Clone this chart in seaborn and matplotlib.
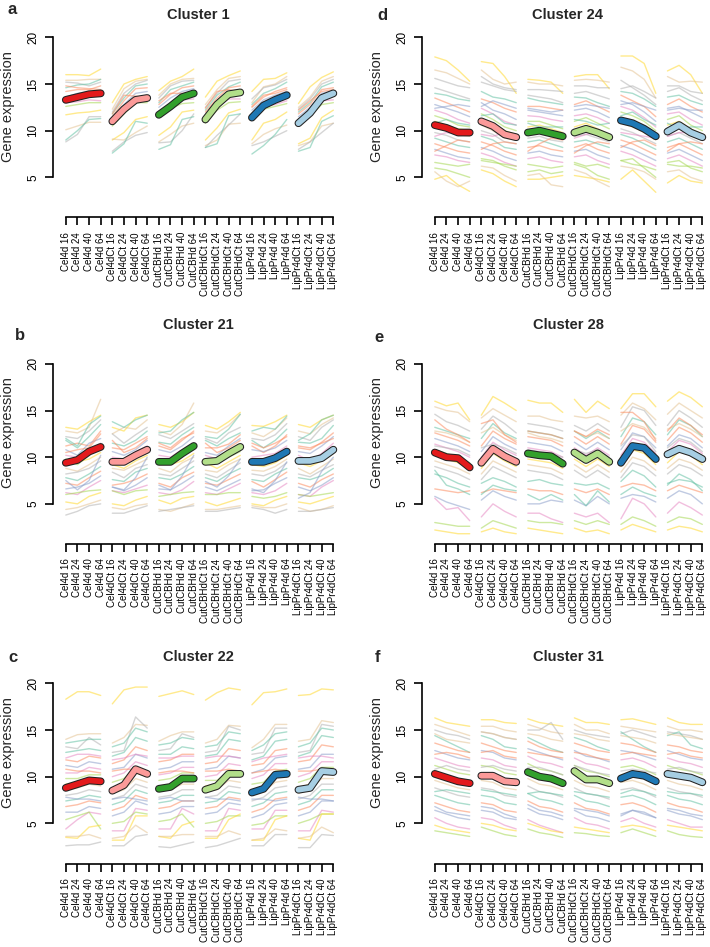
import numpy as np
import pandas as pd
import seaborn as sns
import matplotlib.pyplot as plt

samples = ["Cel4d", "Cel4dCt", "CutCBHd", "CutCBHdCt", "LipPr4d", "LipPr4dCt"]
hours = [16, 24, 40, 64]
tick_labels = [f"{s} {h}" for s in samples for h in hours]
mean_colors = ["#E31A1C", "#FB9A99", "#33A02C", "#B2DF8A", "#1F78B4", "#A6CEE3"]

titles = ["Cluster 1", "Cluster 21", "Cluster 22", "Cluster 24", "Cluster 28", "Cluster 31"]
letters = ["a", "b", "c", "d", "e", "f"]

# cluster mean profiles, 6 conditions x 4 time points
means_c1 = [13.3, 13.6, 13.9, 14.0, 11.0, 12.3, 13.3, 13.5, 11.7, 12.6, 13.6, 14.0,
            11.2, 12.8, 13.9, 14.1, 11.4, 12.7, 13.3, 13.8, 10.8, 11.9, 13.5, 14.0]
means_c21 = [9.4, 9.7, 10.6, 11.1, 9.5, 9.5, 10.2, 10.8, 9.5, 9.5, 10.4, 11.2,
             9.5, 9.6, 10.4, 11.1, 9.5, 9.5, 9.9, 10.6, 9.6, 9.6, 9.9, 10.8]
means_c22 = [8.8, 9.2, 9.6, 9.5, 8.5, 9.1, 10.8, 10.3, 8.7, 8.9, 9.8, 9.8,
             8.6, 9.0, 10.3, 10.3, 8.3, 8.7, 10.2, 10.3, 8.6, 8.8, 10.6, 10.5]
means_c24 = [10.6, 10.3, 9.8, 9.8, 11.0, 10.5, 9.6, 9.3, 9.8, 10.0, 9.7, 9.4,
             9.8, 10.2, 9.8, 9.3, 11.1, 10.8, 10.2, 9.4, 9.9, 10.6, 9.8, 9.3]
means_c28 = [10.5, 10.0, 9.9, 8.9, 9.4, 10.9, 10.1, 9.5, 10.4, 10.2, 10.1, 9.3,
             10.5, 9.7, 10.4, 9.5, 9.4, 11.2, 11.0, 9.8, 10.3, 10.9, 10.5, 9.8]
means_c31 = [10.3, 9.9, 9.5, 9.3, 10.1, 10.1, 9.5, 9.4, 10.5, 10.0, 9.8, 9.3,
             10.6, 9.7, 9.7, 9.3, 9.8, 10.3, 10.1, 9.5, 10.3, 10.1, 9.9, 9.4]

# member gene profiles (one row per gene, groups separated by |)
genes_c1 = """
16.0 16.0 15.9 16.6 | 13.0 15.0 15.5 15.8 | 14.3 15.3 15.8 16.6 | 13.6 15.3 15.9 16.4 | 14.2 15.5 15.6 16.2 | 12.9 14.7 15.7 16.3
15.4 15.4 15.5 15.5 | 12.3 14.5 15.3 15.5 | 13.8 15.0 15.5 15.6 | 12.8 14.4 15.6 15.8 | 13.0 14.7 15.0 15.8 | 12.5 13.6 15.3 15.8
15.2 15.1 14.8 15.2 | 12.0 14.0 15.0 15.4 | 13.5 14.8 15.3 15.4 | 12.5 14.0 15.3 15.5 | 13.4 14.6 14.9 15.5 | 12.3 13.4 15.0 15.5
14.6 14.9 15.0 15.5 | 11.8 13.5 14.8 15.0 | 13.0 14.4 14.8 15.2 | 12.2 13.8 14.7 15.2 | 12.8 14.0 14.5 15.2 | 12.0 13.0 14.7 15.2
14.2 14.4 14.4 14.8 | 11.5 13.2 14.5 14.6 | 12.8 13.9 14.6 14.8 | 12.0 13.5 14.6 14.8 | 12.5 13.6 14.2 14.6 | 11.8 12.8 14.4 14.6
13.6 14.0 14.2 14.2 | 11.2 12.8 14.0 14.2 | 12.5 13.5 14.2 14.5 | 11.6 13.2 14.2 14.4 | 12.2 13.3 13.8 14.2 | 11.5 12.5 14.0 14.3
13.0 13.1 13.3 13.2 | 10.8 12.2 13.3 13.4 | 12.0 12.8 13.3 13.4 | 11.2 12.6 13.4 13.4 | 11.8 12.6 12.8 13.2 | 11.0 12.0 13.2 13.3
12.6 12.8 13.0 13.0 | 10.5 11.8 13.0 13.0 | 11.5 12.4 12.9 13.0 | 10.8 12.2 13.0 13.1 | 11.4 12.3 12.6 12.9 | 10.6 11.6 12.8 13.0
11.7 11.9 12.0 12.2 | 9.0 9.8 11.2 11.5 | 9.5 10.4 12.0 12.2 | 9.0 10.3 11.9 12.3 | 9.0 10.8 11.2 12.0 | 8.6 9.2 11.4 12.2
10.1 10.5 10.9 10.9 | 9.1 9.0 9.8 10.5 | 8.8 9.6 10.5 10.8 | 8.4 9.0 10.7 10.8 | 8.6 9.6 10.2 10.6 | 8.4 8.8 10.5 10.8
8.8 9.6 11.5 11.5 | 7.8 8.8 9.5 9.8 | 8.7 8.8 10.0 11.8 | 8.2 9.5 10.6 11.8 | 8.4 8.8 9.4 10.0 | 8.0 8.8 9.8 10.8
9.0 10.0 11.2 11.3 | 7.6 8.6 11.0 10.8 | 8.0 8.5 11.2 11.5 | 8.2 8.6 11.6 11.8 | 7.5 8.4 9.6 11.2 | 7.8 8.2 11.0 11.6
14.8 14.6 14.5 14.4 | 11.8 13.8 13.7 13.5 | 13.2 14.0 14.0 14.0 | 12.4 14.2 14.4 14.2 | 12.6 13.8 14.0 14.4 | 12.2 13.2 14.2 14.4
"""

genes_c21 = """
13.2 13.0 13.8 14.5 | 13.2 12.8 14.2 14.5 | 13.5 13.2 13.8 14.8 | 13.4 13.0 13.8 14.8 | 13.4 13.3 13.8 14.5 | 13.5 13.2 14.0 14.5
12.8 12.6 13.2 16.2 | 12.5 13.2 13.0 14.0 | 12.8 12.4 13.5 15.8 | 12.8 12.6 13.4 14.6 | 12.6 12.2 13.0 14.2 | 12.8 12.5 13.5 14.2
12.2 12.0 12.8 14.0 | 12.5 11.5 12.4 13.2 | 12.4 12.0 12.8 13.6 | 12.0 11.5 12.6 13.2 | 12.0 11.8 12.4 13.6 | 12.2 11.8 13.2 14.0
11.8 11.0 12.2 13.5 | 11.5 11.2 11.8 12.8 | 11.6 11.4 12.4 13.2 | 11.8 11.2 12.0 12.6 | 11.8 11.0 11.8 13.0 | 11.6 11.5 12.0 13.4
11.2 11.5 11.2 12.8 | 11.0 10.8 11.5 12.2 | 11.2 10.8 11.8 12.8 | 11.0 11.0 11.4 12.4 | 11.2 10.5 11.2 12.4 | 11.0 10.8 11.6 12.6
10.8 10.2 11.5 12.0 | 10.6 10.2 10.8 11.8 | 10.8 10.5 11.2 12.2 | 10.5 10.2 11.2 12.0 | 10.8 10.6 11.0 11.8 | 10.6 10.4 11.2 12.2
10.2 10.0 10.5 11.5 | 10.0 9.8 10.6 11.2 | 10.2 10.0 10.8 11.5 | 10.2 9.8 10.5 11.4 | 10.0 10.2 10.4 11.2 | 10.2 9.6 10.4 11.5
9.8 9.2 10.2 11.0 | 9.6 9.5 10.2 10.6 | 9.8 9.4 10.2 10.8 | 9.6 9.4 10.0 10.6 | 9.8 9.4 10.0 10.8 | 9.8 9.4 9.8 10.8
9.2 9.5 9.8 10.5 | 9.2 8.8 9.6 10.2 | 9.2 9.2 9.6 10.4 | 9.4 8.8 9.5 10.2 | 9.2 9.0 9.4 10.2 | 9.4 9.0 9.6 10.4
8.8 8.5 9.2 10.0 | 8.8 8.6 9.2 9.8 | 8.8 8.4 9.4 10.0 | 8.6 8.4 9.2 9.8 | 8.6 8.5 9.0 9.8 | 8.8 8.2 9.0 9.8
8.2 8.4 8.8 9.6 | 8.4 7.8 8.8 9.2 | 8.2 8.0 8.8 9.6 | 8.2 7.8 8.6 9.4 | 8.2 8.0 8.5 9.4 | 8.2 7.9 8.6 9.2
7.8 7.5 8.2 9.0 | 7.6 7.4 8.4 8.8 | 7.8 7.6 8.2 9.0 | 7.8 7.4 8.2 8.8 | 7.6 7.4 8.2 8.8 | 7.8 7.6 8.0 8.8
7.2 7.0 7.8 8.5 | 7.0 7.2 7.6 8.2 | 7.2 6.8 7.8 8.4 | 7.2 7.0 7.6 8.2 | 7.4 6.8 7.6 8.4 | 7.2 6.8 7.6 8.2
6.6 6.8 7.2 8.0 | 6.8 6.4 7.0 7.8 | 6.6 6.5 7.2 8.0 | 6.8 6.4 7.0 7.6 | 6.4 6.5 7.2 7.8 | 6.8 6.4 7.0 7.8
6.2 6.0 6.8 7.5 | 6.4 6.2 6.6 7.0 | 6.2 6.0 6.5 7.4 | 6.2 6.0 6.6 7.2 | 6.2 6.0 6.4 7.2 | 6.0 5.8 6.8 7.5
6.0 6.2 6.4 6.5 | 6.4 6.0 6.4 6.5 | 5.8 6.0 6.2 6.3 | 6.0 6.0 6.2 6.2 | 5.8 5.6 5.8 6.2 | 6.0 5.8 6.0 6.2
5.2 5.0 5.8 6.2 | 5.0 4.8 5.4 5.8 | 5.4 5.0 5.6 5.8 | 5.2 4.8 5.2 5.6 | 5.0 4.8 5.4 5.8 | 5.2 5.0 5.4 5.8
4.4 4.6 5.0 5.4 | 4.6 4.4 4.8 5.0 | 4.4 4.2 4.6 5.0 | 4.4 4.4 4.6 4.8 | 4.8 4.6 4.6 5.0 | 4.6 4.2 4.4 4.8
3.8 4.2 4.8 5.0 | 4.0 4.0 4.4 4.8 | 4.2 4.4 4.6 4.8 | 4.2 4.2 4.4 4.6 | 4.6 4.4 4.0 4.4 | 4.2 4.2 4.4 4.6
12.0 11.2 13.5 14.4 | 13.8 13.2 14.0 14.5 | 12.6 12.8 14.0 14.8 | 12.2 12.0 13.0 14.6 | 12.8 13.2 13.0 14.4 | 11.8 12.5 14.0 14.5
10.5 10.8 11.0 12.5 | 11.8 10.5 11.0 12.0 | 11.5 11.0 12.0 12.6 | 11.5 10.5 11.0 11.8 | 11.5 11.0 11.5 12.2 | 11.2 11.0 11.5 12.0
7.5 6.5 7.5 10.2 | 6.8 6.5 7.8 10.0 | 7.0 6.5 8.0 10.2 | 7.4 6.8 8.0 9.8 | 6.6 6.2 7.5 9.5 | 5.6 6.2 8.5 10.0
"""

genes_c22 = """
18.3 19.1 19.1 18.7 | 17.8 19.3 19.6 19.6 | 18.6 18.9 19.2 18.8 | 18.2 19.0 19.5 19.3 | 17.7 19.0 19.1 19.4 | 18.7 18.8 19.4 19.3
14.0 14.5 14.6 14.6 | 13.6 14.2 15.6 15.5 | 13.8 14.4 14.8 14.8 | 13.6 14.0 15.5 15.4 | 13.1 14.0 15.6 15.6 | 13.8 14.0 16.0 15.8
13.2 13.0 14.2 13.4 | 12.6 12.8 16.4 15.2 | 12.8 13.0 14.6 14.2 | 12.6 12.8 15.4 15.0 | 12.4 12.6 15.2 15.2 | 12.6 12.8 15.6 15.4
12.6 12.8 13.0 12.8 | 12.2 12.6 14.2 13.8 | 12.4 12.4 13.2 13.0 | 12.2 12.4 14.0 13.8 | 11.8 12.2 13.8 14.0 | 12.2 12.6 14.4 14.2
11.8 11.6 12.2 12.0 | 11.4 11.8 13.2 12.8 | 11.6 11.8 12.4 12.4 | 11.4 11.6 13.0 12.8 | 11.2 11.4 12.8 13.0 | 11.6 11.8 13.4 13.2
11.2 11.0 11.6 11.4 | 10.8 11.0 12.4 12.0 | 10.8 11.0 11.6 11.6 | 10.8 11.0 12.2 12.0 | 10.4 10.8 12.0 12.2 | 10.8 11.0 12.4 12.4
10.4 10.4 11.0 10.8 | 10.0 10.4 11.6 11.2 | 10.2 10.4 11.0 11.0 | 10.0 10.2 11.4 11.2 | 9.8 10.2 11.4 11.4 | 10.0 10.4 11.6 11.6
9.8 9.8 10.2 10.2 | 9.4 9.8 11.0 10.6 | 9.6 9.8 10.4 10.4 | 9.6 9.6 10.6 10.6 | 9.2 9.4 10.6 10.8 | 9.4 9.8 11.0 11.0
9.2 9.4 9.8 9.6 | 8.8 9.2 10.4 10.0 | 9.0 9.2 9.8 9.8 | 9.0 9.2 10.2 10.0 | 8.6 8.8 10.0 10.2 | 8.8 9.2 10.4 10.4
8.6 8.8 9.2 9.0 | 8.2 8.6 9.8 9.4 | 8.4 8.6 9.2 9.2 | 8.4 8.6 9.6 9.4 | 8.0 8.4 9.4 9.6 | 8.2 8.6 9.8 9.8
8.0 8.2 8.6 8.4 | 7.6 8.0 9.2 8.8 | 7.8 8.0 8.6 8.6 | 7.8 8.0 9.0 8.8 | 7.4 7.8 8.8 9.0 | 7.6 8.0 9.2 9.2
7.4 7.6 8.0 7.8 | 7.0 7.4 8.6 8.2 | 7.2 7.4 8.0 8.0 | 7.2 7.4 8.4 8.2 | 6.8 7.2 8.2 8.4 | 7.0 7.4 8.6 8.6
6.8 7.0 7.4 7.2 | 6.4 6.8 8.0 7.6 | 6.6 6.8 7.4 7.4 | 6.6 6.8 7.8 7.6 | 6.2 6.6 7.6 7.8 | 6.4 6.8 8.0 8.0
6.2 6.2 6.8 6.6 | 5.8 6.2 7.4 7.0 | 6.0 6.2 6.8 6.8 | 6.0 6.2 7.2 7.0 | 5.6 6.0 7.0 7.2 | 5.8 6.2 7.4 7.4
4.4 5.4 6.2 6.0 | 4.2 4.2 6.6 6.4 | 4.4 4.4 6.6 6.0 | 4.2 4.2 6.6 6.4 | 4.4 4.4 6.4 6.4 | 4.2 4.2 6.4 6.2
5.4 5.8 6.2 4.4 | 5.0 5.2 6.2 6.0 | 5.2 5.4 6.0 4.6 | 5.0 5.2 5.8 5.8 | 4.8 5.0 5.8 5.8 | 5.0 5.4 6.0 6.0
3.5 3.4 4.6 4.8 | 3.2 3.2 5.8 5.8 | 3.6 3.4 4.8 5.2 | 3.4 3.4 5.4 6.0 | 3.2 3.2 5.4 5.8 | 3.4 3.2 6.0 6.0
3.6 3.6 3.8 3.4 | 3.4 3.6 4.8 4.0 | 3.6 3.6 3.8 3.8 | 3.6 3.6 4.2 3.8 | 3.2 3.4 4.4 4.2 | 3.4 3.6 4.6 4.0
2.6 2.7 2.7 3.0 | 2.6 2.6 3.6 3.8 | 2.5 2.4 2.7 3.0 | 2.4 2.6 3.0 3.4 | 2.6 2.6 3.8 3.8 | 2.4 2.4 3.8 3.7
13.6 13.8 14.0 14.0 | 13.2 13.6 15.2 14.8 | 13.4 13.6 14.2 14.0 | 13.2 13.4 14.8 14.6 | 12.8 13.4 14.6 14.8 | 13.2 13.6 15.2 15.0
10.8 10.6 10.6 10.4 | 10.6 10.8 10.8 10.6 | 10.4 10.6 10.6 10.4 | 10.6 10.6 10.8 10.6 | 10.4 10.6 10.8 10.6 | 10.6 10.6 10.8 10.6
7.8 7.6 7.6 7.4 | 7.6 7.8 7.6 7.4 | 7.6 7.8 7.4 7.4 | 7.8 7.6 7.6 7.4 | 7.6 7.6 7.4 7.6 | 7.8 7.6 7.6 7.4
12.0 12.4 12.4 12.2 | 11.8 12.0 12.4 12.2 | 12.0 12.0 12.2 12.2 | 12.0 12.2 12.2 12.0 | 11.6 12.0 12.2 12.4 | 12.0 12.2 12.2 12.0
"""

genes_c24 = """
17.9 17.5 16.5 15.3 | 17.4 17.2 15.8 14.0 | 15.5 15.4 15.2 14.0 | 15.8 16.0 16.0 14.5 | 18.0 18.0 17.2 14.0 | 16.4 17.0 16.0 14.0
16.5 16.2 15.6 15.0 | 16.5 15.5 15.0 15.2 | 15.2 15.0 15.0 14.8 | 15.4 15.5 15.4 15.2 | 16.8 16.4 15.5 13.5 | 15.8 15.2 15.3 15.2
15.6 15.2 14.8 14.6 | 15.8 15.0 14.6 14.4 | 14.4 14.4 14.3 14.2 | 14.8 14.8 14.6 14.6 | 14.5 14.8 14.2 13.5 | 14.8 14.8 14.2 14.0
14.0 13.8 13.4 13.2 | 14.2 13.6 13.4 13.0 | 13.5 13.2 13.0 12.8 | 13.6 13.5 13.0 12.6 | 14.2 14.0 13.4 12.6 | 13.6 13.8 13.2 12.8
13.5 13.0 12.5 12.0 | 13.4 13.0 12.4 12.0 | 12.6 12.6 12.4 12.2 | 12.8 13.2 12.6 12.0 | 13.8 13.2 12.6 11.5 | 12.8 13.4 12.6 12.0
12.8 12.4 12.0 11.5 | 13.0 12.2 11.8 11.2 | 12.2 12.0 11.8 11.6 | 12.2 12.4 12.0 11.4 | 13.2 12.8 12.0 11.0 | 12.4 12.6 12.0 11.4
12.2 11.8 11.2 10.8 | 12.4 11.8 11.0 10.6 | 11.6 11.5 11.2 11.0 | 11.6 11.8 11.4 10.8 | 12.6 12.2 11.4 10.4 | 11.8 12.0 11.2 10.6
11.6 11.2 10.6 10.4 | 11.8 11.2 10.4 10.0 | 11.0 11.0 10.6 10.2 | 11.0 11.4 10.8 10.2 | 12.0 11.6 11.0 10.0 | 11.2 11.6 10.6 10.0
11.0 10.6 10.2 10.0 | 11.2 10.6 10.0 9.6 | 10.4 10.6 10.2 9.8 | 10.4 10.8 10.2 9.6 | 11.4 11.0 10.4 9.6 | 10.6 11.0 10.2 9.6
10.4 10.0 9.6 9.4 | 10.6 10.0 9.2 9.0 | 9.8 10.0 9.6 9.2 | 9.8 10.2 9.8 9.2 | 10.8 10.4 9.8 9.0 | 10.0 10.4 9.6 9.0
9.8 9.5 9.0 8.8 | 10.0 9.6 8.8 8.6 | 9.2 9.4 9.0 8.8 | 9.4 9.6 9.2 8.8 | 10.2 9.8 9.2 8.6 | 9.4 9.8 9.2 8.6
9.2 8.8 8.4 8.2 | 9.4 9.0 8.2 8.0 | 8.8 9.0 8.6 8.2 | 8.8 9.0 8.6 8.2 | 9.6 9.2 8.6 8.0 | 8.8 9.2 8.6 8.0
8.6 8.2 7.8 7.6 | 8.8 8.4 7.8 7.4 | 8.2 8.4 8.0 7.8 | 8.2 8.6 8.0 7.6 | 9.0 8.6 8.0 7.4 | 8.2 8.6 8.0 7.4
8.0 7.6 7.2 7.0 | 8.2 7.8 7.2 6.8 | 7.6 7.8 7.4 7.2 | 7.8 8.0 7.4 7.0 | 8.4 8.0 7.4 6.8 | 7.6 8.0 7.4 6.8
7.4 7.2 6.8 6.6 | 7.6 7.2 6.6 6.2 | 7.0 7.2 6.8 6.6 | 7.2 7.4 6.8 6.4 | 7.8 7.4 6.8 6.2 | 7.0 7.4 6.8 6.2
6.0 5.8 5.4 5.0 | 7.0 6.8 6.2 5.8 | 5.6 5.8 5.4 5.6 | 6.4 6.0 5.2 4.8 | 6.8 7.0 6.0 5.0 | 6.6 6.8 6.0 5.6
4.8 5.2 4.2 3.5 | 5.8 5.4 4.6 4.0 | 4.8 4.8 5.0 5.2 | 5.2 5.0 4.8 4.5 | 4.8 5.8 4.6 3.4 | 4.4 5.2 4.6 4.4
5.6 4.6 4.0 4.6 | 6.2 6.0 5.2 4.6 | 5.2 5.4 4.2 4.0 | 5.8 5.4 4.6 4.0 | 6.2 6.0 5.6 4.8 | 5.6 5.8 5.0 4.6
14.6 14.2 13.8 13.4 | 15.2 14.8 14.4 14.2 | 13.8 13.6 13.4 13.0 | 14.0 14.2 13.8 13.4 | 15.4 14.6 13.8 12.8 | 14.2 14.6 13.8 13.2
10.8 11.2 10.8 10.6 | 11.6 11.8 10.8 10.6 | 10.8 10.4 10.4 10.4 | 11.2 11.0 10.6 10.8 | 11.6 12.0 11.2 10.6 | 10.8 10.2 10.4 10.4
7.8 8.4 9.0 8.8 | 8.0 8.6 8.8 8.6 | 7.8 8.6 9.2 9.0 | 7.6 8.4 8.8 8.6 | 8.2 8.8 9.0 8.4 | 7.8 8.6 8.8 8.6
12.4 12.6 12.8 12.6 | 12.6 13.2 12.8 12.4 | 12.4 12.2 12.0 12.2 | 12.6 12.8 12.6 12.4 | 12.8 13.0 12.6 12.2 | 12.2 12.4 12.2 12.2
9.4 9.8 9.6 9.8 | 9.6 9.4 9.8 9.6 | 9.6 10.0 9.8 9.6 | 9.2 9.6 9.8 9.4 | 9.8 9.6 9.4 9.2 | 9.4 9.8 9.8 9.6
6.6 6.4 6.2 6.4 | 6.8 6.6 6.4 6.2 | 6.4 6.2 6.0 6.2 | 6.6 6.2 6.4 6.0 | 6.8 6.4 6.2 5.8 | 6.4 6.2 6.2 6.0
"""

genes_c28 = """
16.0 15.5 15.8 14.0 | 14.5 16.5 15.8 15.0 | 16.1 15.8 15.8 14.8 | 16.2 14.8 16.0 15.2 | 15.2 16.8 16.8 15.4 | 16.0 17.0 16.4 15.4
15.4 15.0 14.8 13.8 | 14.2 15.2 14.5 13.8 | 14.4 14.4 14.0 13.8 | 14.4 14.2 14.4 13.8 | 14.5 15.8 15.2 14.0 | 14.6 15.8 15.0 14.2
14.6 13.8 13.4 12.8 | 13.0 14.4 13.6 12.6 | 13.6 13.4 13.2 12.8 | 13.4 12.8 13.6 12.8 | 13.2 15.4 15.0 13.4 | 13.4 15.0 14.2 13.2
13.2 12.8 12.4 12.0 | 12.0 13.6 12.6 12.0 | 12.8 12.6 12.4 12.0 | 12.8 12.0 12.8 12.0 | 12.2 14.2 13.8 12.4 | 12.4 14.0 13.4 12.2
12.6 12.2 11.8 11.2 | 11.2 12.8 12.0 11.4 | 12.2 12.0 11.8 11.2 | 12.2 11.4 12.2 11.4 | 11.4 13.4 13.0 11.6 | 11.8 13.2 12.6 11.6
12.0 11.6 11.2 10.6 | 10.6 12.2 11.4 10.8 | 11.6 11.4 11.2 10.6 | 11.6 10.8 11.6 10.8 | 10.8 12.6 12.2 11.0 | 11.2 12.4 12.0 11.0
11.4 11.0 10.6 10.0 | 10.0 11.6 10.8 10.2 | 11.0 10.8 10.6 10.0 | 11.0 10.2 11.0 10.2 | 10.2 12.0 11.6 10.4 | 10.6 11.8 11.4 10.4
10.8 10.4 10.0 9.4 | 9.4 11.0 10.2 9.6 | 10.4 10.2 10.0 9.4 | 10.4 9.6 10.4 9.6 | 9.6 11.4 11.0 9.8 | 10.0 11.2 10.8 9.8
10.2 9.8 9.4 8.8 | 8.8 10.4 9.6 9.0 | 9.8 9.6 9.4 8.8 | 9.8 9.0 9.8 9.0 | 9.0 10.8 10.4 9.2 | 9.4 10.6 10.2 9.2
9.6 9.2 8.8 8.2 | 8.2 9.6 9.0 8.4 | 9.2 9.0 8.8 8.2 | 9.2 8.4 9.2 8.4 | 8.4 10.0 9.6 8.6 | 8.8 9.8 9.4 8.6
9.0 8.6 8.2 7.6 | 7.6 9.0 8.4 7.8 | 8.6 8.4 8.2 7.6 | 8.6 7.8 8.6 7.8 | 7.8 9.4 9.0 8.0 | 8.2 9.2 8.8 8.0
8.2 7.8 7.2 6.8 | 7.2 7.8 7.4 6.8 | 7.4 7.6 7.2 7.0 | 7.2 7.0 7.2 6.6 | 7.4 8.6 8.0 6.8 | 7.2 7.6 7.4 6.8
6.6 6.4 6.2 6.4 | 6.2 6.6 6.4 6.2 | 6.6 6.4 6.4 6.0 | 6.6 6.2 6.6 6.0 | 6.8 7.2 7.0 6.4 | 6.4 7.0 6.6 6.2
5.8 5.2 4.8 4.4 | 5.4 6.4 5.8 5.4 | 5.0 5.0 5.4 5.2 | 5.4 4.8 5.8 5.0 | 5.6 6.0 5.8 5.2 | 5.6 6.4 6.0 5.0
5.6 4.4 4.6 3.2 | 3.6 5.0 4.2 3.6 | 4.0 4.0 3.4 3.0 | 4.0 3.6 4.0 3.0 | 3.4 5.6 5.0 3.6 | 4.0 5.2 4.6 3.8
3.0 2.8 2.6 2.6 | 2.4 3.2 2.8 2.4 | 3.2 3.0 3.0 2.8 | 3.2 2.8 3.2 2.8 | 2.8 3.6 3.2 2.6 | 3.0 3.6 3.4 2.8
2.2 2.0 1.8 1.8 | 2.0 2.4 2.0 1.8 | 2.4 2.2 2.0 1.8 | 2.4 2.0 2.2 1.8 | 2.2 2.8 2.4 2.0 | 2.2 2.6 2.4 2.0
12.8 12.6 12.2 11.6 | 12.6 13.2 12.4 11.8 | 12.6 12.2 12.0 11.6 | 12.8 12.2 12.6 12.0 | 12.8 13.6 13.2 12.0 | 13.0 13.6 13.0 12.2
11.2 11.0 10.8 10.2 | 11.0 11.4 11.0 10.4 | 10.8 10.6 10.4 10.0 | 10.8 10.4 10.8 10.0 | 11.2 12.4 12.2 10.6 | 11.0 12.0 11.6 10.6
8.6 7.0 6.6 6.0 | 6.0 7.0 6.6 6.4 | 6.0 5.4 6.0 5.4 | 6.0 4.8 6.4 5.2 | 6.0 6.8 6.2 5.8 | 7.0 8.2 7.6 6.4
14.0 13.0 12.4 11.6 | 13.6 14.0 12.4 11.6 | 12.8 12.6 12.4 12.0 | 12.8 12.2 13.0 12.4 | 14.8 14.8 13.8 11.8 | 12.8 14.2 13.4 12.4
"""

genes_c31 = """
16.3 15.8 15.6 15.4 | 16.1 16.1 15.8 15.7 | 16.2 15.8 15.6 15.4 | 16.3 15.8 15.8 15.6 | 16.1 16.2 15.9 15.6 | 16.3 15.8 15.6 15.6
15.6 15.2 14.8 14.4 | 15.4 15.4 15.0 14.8 | 15.6 15.2 14.8 14.6 | 15.6 15.0 15.0 14.6 | 15.4 15.2 15.0 14.8 | 15.4 15.0 15.0 14.8
15.0 14.6 14.4 14.0 | 14.8 14.6 14.2 14.0 | 15.0 15.0 15.8 14.0 | 15.0 14.6 14.4 14.2 | 14.6 15.0 14.6 14.2 | 14.8 14.6 14.4 14.0
14.4 13.8 13.2 12.6 | 14.4 14.0 13.2 13.0 | 14.2 13.6 13.0 12.6 | 14.2 13.8 13.2 12.8 | 14.8 14.0 13.2 12.6 | 14.4 14.8 13.4 13.0
13.6 13.2 12.8 12.6 | 13.6 13.2 12.8 12.6 | 13.8 13.2 12.8 12.6 | 13.6 13.2 12.8 12.6 | 13.6 13.4 13.0 12.6 | 13.4 13.2 12.8 12.6
12.8 12.4 12.0 11.8 | 12.8 12.6 12.0 11.8 | 13.0 12.6 12.2 11.8 | 12.8 12.2 12.0 11.6 | 12.8 12.6 12.2 11.8 | 12.8 12.4 12.0 11.8
12.0 11.6 11.2 11.0 | 12.0 11.8 11.2 11.0 | 12.2 11.6 11.4 11.0 | 12.0 11.4 11.2 10.8 | 11.8 12.0 11.6 11.0 | 12.0 11.6 11.4 11.0
11.2 10.8 10.4 10.2 | 11.2 11.0 10.4 10.2 | 11.4 10.8 10.6 10.2 | 11.2 10.6 10.4 10.0 | 11.0 11.2 10.8 10.2 | 11.2 10.8 10.6 10.2
10.4 10.0 9.6 9.4 | 10.4 10.2 9.6 9.4 | 10.6 10.0 9.8 9.4 | 10.4 9.8 9.6 9.2 | 10.2 10.4 10.0 9.4 | 10.4 10.0 9.8 9.4
9.6 9.2 8.8 8.6 | 9.6 9.4 8.8 8.6 | 9.8 9.2 9.0 8.6 | 9.6 9.0 8.8 8.4 | 9.4 9.6 9.2 8.6 | 9.6 9.2 9.0 8.6
8.8 8.4 8.0 7.8 | 8.8 8.6 8.0 7.8 | 9.0 8.4 8.2 7.8 | 8.8 8.2 8.0 7.6 | 8.6 8.8 8.4 7.8 | 8.8 8.4 8.2 7.8
8.0 7.6 7.2 7.0 | 8.0 7.8 7.2 7.0 | 8.2 7.6 7.4 7.0 | 8.0 7.4 7.2 6.8 | 7.8 8.0 7.6 7.0 | 8.0 7.6 7.4 7.0
7.2 6.8 6.4 6.2 | 7.2 7.0 6.4 6.2 | 7.4 6.8 6.6 6.2 | 7.2 6.6 6.4 6.0 | 7.0 7.2 6.8 6.2 | 7.2 6.8 6.6 6.2
6.4 6.0 5.6 5.4 | 6.4 6.2 5.6 5.4 | 6.6 6.0 5.8 5.4 | 6.4 5.8 5.6 5.2 | 6.0 6.4 6.2 5.6 | 6.4 6.0 5.8 5.4
5.6 5.0 4.6 4.4 | 5.6 5.4 4.8 4.4 | 5.4 4.8 4.4 4.0 | 5.6 5.0 4.8 4.4 | 5.2 5.6 5.0 4.6 | 5.4 5.0 4.6 4.6
4.2 4.0 3.8 3.6 | 4.6 4.2 3.8 3.6 | 4.4 4.0 3.8 3.5 | 4.0 3.9 3.7 3.6 | 4.0 4.4 4.0 3.6 | 4.2 3.8 3.6 3.5
4.8 4.4 4.2 4.0 | 5.0 4.8 4.4 4.2 | 5.0 4.6 4.2 4.0 | 4.6 4.4 4.2 4.0 | 4.6 4.8 4.6 4.2 | 4.8 4.6 4.4 4.2
14.6 14.0 13.8 13.6 | 14.8 14.6 14.2 14.0 | 14.6 14.4 14.0 13.8 | 14.6 14.4 14.0 13.8 | 14.4 14.2 14.0 13.6 | 14.6 14.4 14.2 14.0
10.8 11.2 10.8 10.6 | 11.0 11.2 10.8 10.6 | 11.0 11.0 10.6 10.2 | 11.2 10.8 10.4 10.2 | 10.6 10.8 10.6 10.4 | 10.8 11.0 10.6 10.4
8.4 8.6 8.4 8.2 | 8.6 8.4 8.2 8.0 | 8.2 8.4 8.2 8.0 | 8.4 8.2 8.0 7.8 | 8.2 8.6 8.4 8.0 | 8.4 8.2 8.2 8.0
12.4 12.6 12.4 12.0 | 12.6 12.8 12.2 12.0 | 12.6 12.4 12.2 12.0 | 12.6 12.4 12.0 11.8 | 12.4 12.6 12.4 12.2 | 12.4 12.6 12.2 12.0
6.8 6.2 6.0 5.8 | 6.8 6.6 6.0 5.6 | 7.0 6.4 6.2 5.8 | 6.6 6.4 6.2 5.8 | 5.8 6.4 6.0 5.6 | 6.6 6.4 6.0 5.8
"""

gene_blocks = [genes_c1, genes_c21, genes_c22, genes_c24, genes_c28, genes_c31]
mean_profiles = [means_c1, means_c21, means_c22, means_c24, means_c28, means_c31]


def parse(block):
    return [[float(v) for v in line.replace("|", " ").split()]
            for line in block.strip().splitlines()]


def to_long(rows):
    recs = []
    for g, row in enumerate(rows):
        for i, v in enumerate(row):
            recs.append((f"g{g:02d}", f"g{g:02d}-{i // 4}", i, v))
    return pd.DataFrame(recs, columns=["gene", "seg", "pos", "value"])


sns.set_style("ticks")
plt.rcParams["font.family"] = ["Liberation Sans", "DejaVu Sans"]

W, H = 710, 947
fig = plt.figure(figsize=(W / 100, H / 100), dpi=100)
set2 = sns.color_palette("Set2", 8)

# axes placement in pixels: (left, bottom-from-top)
col_left = [53, 422]
row_bottom = [217.5, 544, 863.5]
ax_w, ax_h = 285, 189.5
title_x = [198, 568]
title_y = [15, 325, 657]
letter_xy = [(12, 10), (20, 335), (13, 658), (382, 15), (379, 337), (378, 657)]

for k in range(6):
    col, row = k // 3, k % 3
    ax = fig.add_axes([col_left[col] / W, 1 - row_bottom[row] / H, ax_w / W, ax_h / H])

    bg = to_long(parse(gene_blocks[k]))
    genes = bg["gene"].unique()
    pal = {g: set2[(i + 5) % 8] for i, g in enumerate(genes)}
    sns.lineplot(data=bg, x="pos", y="value", hue="gene", units="seg", estimator=None,
                 palette=pal, lw=1.0, alpha=0.55, legend=False, ax=ax)

    md = pd.DataFrame({"pos": range(24), "value": mean_profiles[k],
                       "group": [samples[i // 4] for i in range(24)]})
    sns.lineplot(data=md, x="pos", y="value", units="group", estimator=None, color="#222222",
                 lw=5.6, solid_capstyle="round", solid_joinstyle="round", ax=ax)
    sns.lineplot(data=md, x="pos", y="value", hue="group", units="group", estimator=None,
                 palette=dict(zip(samples, mean_colors)), lw=4.1, legend=False,
                 solid_capstyle="round", solid_joinstyle="round", ax=ax)

    ax.set_xlim(-1.1, 23.4)
    ax.set_ylim(0.7, 21)
    ax.set_yticks([5, 10, 15, 20])
    ax.set_xticks(range(24))
    ax.set_xticklabels(tick_labels, rotation=90)
    for lab in ax.get_yticklabels():
        lab.set_rotation(90)
        lab.set_va("center")
    ax.tick_params(axis="y", length=5.5, width=1.2, pad=4.5, labelsize=8.5, colors="black")
    ax.tick_params(axis="x", length=5.5, width=1.2, pad=5, labelsize=7, colors="black")
    for s in ["top", "right"]:
        ax.spines[s].set_visible(False)
    ax.spines["left"].set_bounds(5, 20)
    ax.spines["bottom"].set_bounds(0, 23)
    for s in ["left", "bottom"]:
        ax.spines[s].set_linewidth(1.2)
        ax.spines[s].set_color("black")
    ax.set_xlabel("")
    ax.set_ylabel("Gene expression", fontsize=10.5)
    ax.yaxis.set_label_coords(-38 / ax_w, 0.586)

    fig.text(title_x[col] / W, 1 - title_y[row] / H, titles[k], ha="center", va="center",
             fontsize=10.5, fontweight="bold")
    lx, ly = letter_xy[k]
    fig.text(lx / W, 1 - ly / H, letters[k], ha="center", va="center",
             fontsize=12, fontweight="bold")

fig.savefig("out.png", dpi=100, facecolor="white")
